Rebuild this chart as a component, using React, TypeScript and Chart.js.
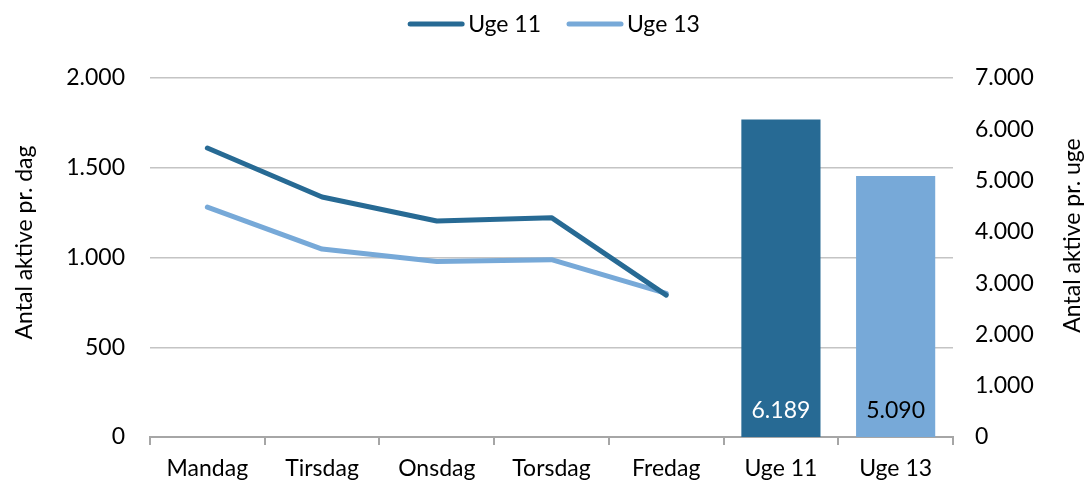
import React, { useEffect, useRef } from "react";
import { Chart, registerables } from "chart.js";

Chart.register(...registerables);

const categories = ["Mandag", "Tirsdag", "Onsdag", "Torsdag", "Fredag", "Uge 11", "Uge 13"];
const uge11Daily = [1610, 1337, 1203, 1222, 790, null, null];
const uge13Daily = [1281, 1047, 978, 988, 800, null, null];
const weeklyTotals = [null, null, null, null, null, 6189, 5090];
const leftTicks = [0, 500, 1000, 1500, 2000];
const rightTicks = [0, 1000, 2000, 3000, 4000, 5000, 6000, 7000];
const leftTitle = "Antal aktive pr. dag";
const rightTitle = "Antal aktive pr. uge";

const DARK = "#276a94";
const LIGHT = "#77a9d8";
const FONT = "Lato, 'Open Sans', sans-serif";
const SIZE = 23;

const fmt = (v: number) => v.toLocaleString("da-DK");

const legendPlugin = {
  id: "customLegend",
  afterDraw(chart: any) {
    const ctx = chart.ctx;
    const items = chart.data.datasets
      .filter((d: any) => d.type === "line")
      .map((d: any) => ({ label: d.label, color: d.borderColor }));
    ctx.save();
    ctx.font = `${SIZE}px ${FONT}`;
    ctx.textBaseline = "middle";
    const lineW = 56;
    const gap = 4;
    const itemGap = 26;
    const widths = items.map((it: any) => lineW + gap + ctx.measureText(it.label).width);
    const total = widths.reduce((a: number, b: number) => a + b, 0) + itemGap * (items.length - 1);
    let x = chart.width / 2 - total / 2 + 10;
    const y = 24;
    items.forEach((it: any, i: number) => {
      ctx.strokeStyle = it.color;
      ctx.lineWidth = 5;
      ctx.lineCap = "round";
      ctx.beginPath();
      ctx.moveTo(x + 2, y);
      ctx.lineTo(x + lineW - 2, y);
      ctx.stroke();
      ctx.fillStyle = "#000";
      ctx.textAlign = "left";
      ctx.fillText(it.label, x + lineW + gap, y + 1);
      x += widths[i] + itemGap;
    });
    ctx.restore();
  },
};

const titlePlugin = {
  id: "axisTitles",
  afterDraw(chart: any) {
    const ctx = chart.ctx;
    const ca = chart.chartArea;
    const mid = (ca.top + ca.bottom) / 2;
    ctx.save();
    ctx.font = `${SIZE}px ${FONT}`;
    ctx.fillStyle = "#000";
    ctx.textAlign = "center";
    ctx.textBaseline = "middle";
    ctx.save();
    ctx.translate(25, mid - 15);
    ctx.rotate(-Math.PI / 2);
    ctx.fillText(leftTitle, 0, 0);
    ctx.restore();
    ctx.save();
    ctx.translate(chart.width - 15, mid - 22);
    ctx.rotate(-Math.PI / 2);
    ctx.fillText(rightTitle, 0, 0);
    ctx.restore();
    ctx.restore();
  },
};

const barLabelPlugin = {
  id: "barLabels",
  afterDatasetsDraw(chart: any) {
    const ctx = chart.ctx;
    const meta = chart.getDatasetMeta(2);
    const ds = chart.data.datasets[2];
    ctx.save();
    ctx.font = `${SIZE}px ${FONT}`;
    ctx.textAlign = "center";
    ctx.textBaseline = "middle";
    meta.data.forEach((el: any, i: number) => {
      const v = ds.data[i];
      if (v == null) return;
      ctx.fillStyle = i === 5 ? "#ffffff" : "#000000";
      ctx.fillText(fmt(v), el.x, chart.chartArea.bottom - 26);
    });
    ctx.restore();
  },
};

export default function App() {
  const ref = useRef<HTMLCanvasElement>(null);
  useEffect(() => {
    document.body.style.margin = "0";
    const chart = new Chart(ref.current!, {
      type: "bar",
      data: {
        labels: categories,
        datasets: [
          {
            type: "line",
            label: "Uge 11",
            data: uge11Daily,
            borderColor: DARK,
            backgroundColor: DARK,
            borderWidth: 5,
            pointRadius: 0,
            borderCapStyle: "round",
            borderJoinStyle: "round",
            yAxisID: "y",
            order: 1,
          },
          {
            type: "line",
            label: "Uge 13",
            data: uge13Daily,
            borderColor: LIGHT,
            backgroundColor: LIGHT,
            borderWidth: 5,
            pointRadius: 0,
            borderCapStyle: "round",
            borderJoinStyle: "round",
            yAxisID: "y",
            order: 2,
          },
          {
            type: "bar",
            label: "Total",
            data: weeklyTotals,
            backgroundColor: [DARK, DARK, DARK, DARK, DARK, DARK, LIGHT],
            yAxisID: "y1",
            barPercentage: 0.69,
            categoryPercentage: 1,
            order: 3,
          },
        ],
      } as any,
      options: {
        animation: false,
        responsive: false,
        maintainAspectRatio: false,
        layout: { padding: { top: 78, bottom: 0, left: 0, right: 0 } },
        plugins: {
          legend: { display: false },
          tooltip: { enabled: false },
        },
        scales: {
          x: {
            offset: true,
            grid: {
              display: true,
              offset: true,
              drawOnChartArea: false,
              drawTicks: true,
              tickLength: 8,
              color: "#a6a6a6",
              lineWidth: 2,
            },
            border: { display: true, color: "#a6a6a6", width: 2 },
            ticks: { color: "#000", font: { family: FONT, size: SIZE }, padding: 10, maxRotation: 0 },
            afterFit(scale: any) {
              scale.height = 47;
            },
          },
          y: {
            position: "left",
            min: 0,
            max: 2000,
            afterBuildTicks(scale: any) {
              scale.ticks = leftTicks.map((v) => ({ value: v }));
            },
            grid: { color: "#c4c4c4", lineWidth: 1.5, drawTicks: false },
            border: { display: false },
            ticks: {
              color: "#000",
              font: { family: FONT, size: SIZE },
              padding: 25,
              callback: (v: any) => fmt(Number(v)),
            },
            afterFit(scale: any) {
              scale.width = 150;
            },
          },
          y1: {
            position: "right",
            min: 0,
            max: 7000,
            afterBuildTicks(scale: any) {
              scale.ticks = rightTicks.map((v) => ({ value: v }));
            },
            grid: { display: false, drawTicks: false },
            border: { display: false },
            ticks: {
              color: "#000",
              font: { family: FONT, size: SIZE },
              padding: 22,
              callback: (v: any) => fmt(Number(v)),
            },
            afterFit(scale: any) {
              scale.width = 135;
            },
          },
        },
      } as any,
      plugins: [legendPlugin, titlePlugin, barLabelPlugin],
    });
    return () => chart.destroy();
  }, []);
  return (
    <div style={{ width: 1088, height: 484 }}>
      <canvas ref={ref} width={1088} height={484} style={{ width: 1088, height: 484 }} />
    </div>
  );
}
